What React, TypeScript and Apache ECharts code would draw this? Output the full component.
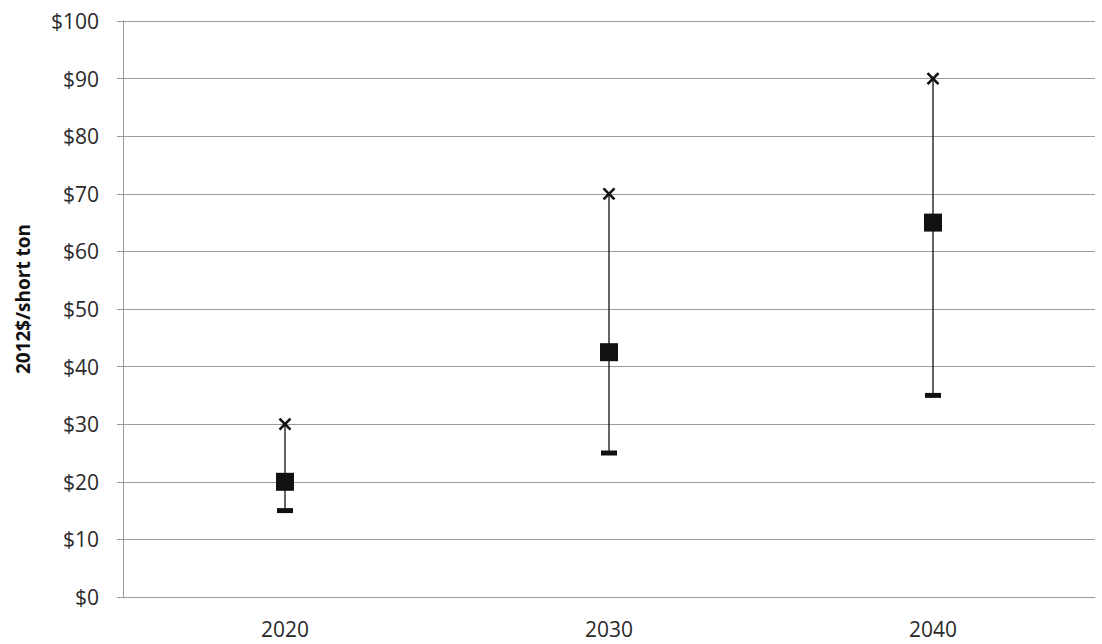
import React, { useEffect, useRef } from "react";
import * as echarts from "echarts";

const years = ["2020", "2030", "2040"];
const highValues = [30, 70, 90];
const lowValues = [15, 25, 35];
const midValues = [20, 42.5, 65];
const yTicks = [0, 10, 20, 30, 40, 50, 60, 70, 80, 90, 100];
const yTitle = "2012$/short ton";

const FONT = "'Open Sans', 'Liberation Sans', sans-serif";

export default function App() {
  const ref = useRef<HTMLDivElement>(null);

  useEffect(() => {
    if (!ref.current) return;
    const chart = echarts.init(ref.current, undefined, { renderer: "svg" });

    const data = years.map((_, i) => [i, lowValues[i], highValues[i], midValues[i]]);

    chart.setOption({
      animation: false,
      backgroundColor: "#ffffff",
      grid: { left: 123, right: 7, top: 21, bottom: 47 },
      graphic: [
        {
          type: "text",
          x: 23,
          y: 299,
          rotation: Math.PI / 2,
          style: {
            text: yTitle,
            fontSize: 19,
            fontWeight: "bold",
            fontFamily: FONT,
            fill: "#111",
            align: "center",
            verticalAlign: "middle",
          },
        },
      ],
      xAxis: {
        type: "category",
        data: years,
        axisLine: { lineStyle: { color: "#9a9a9a", width: 1 } },
        axisTick: { show: false },
        axisLabel: { color: "#2a2a2a", fontSize: 21, fontFamily: FONT, margin: 21 },
        splitLine: { show: false },
      },
      yAxis: {
        type: "value",
        min: yTicks[0],
        max: yTicks[yTicks.length - 1],
        interval: 10,
        axisLine: { show: true, lineStyle: { color: "#9a9a9a", width: 1 } },
        axisTick: { show: true, length: 6, lineStyle: { color: "#9a9a9a" } },
        axisLabel: {
          color: "#2a2a2a",
          fontSize: 21,
          fontFamily: FONT,
          margin: 24,
          formatter: (v: number) => "$" + v,
        },
        splitLine: { show: true, lineStyle: { color: "#9a9a9a", width: 1 } },
      },
      series: [
        {
          type: "custom",
          data,
          encode: { x: 0, y: [1, 2, 3] },
          renderItem: (params: any, api: any) => {
            const idx = api.value(0);
            const low = api.coord([idx, api.value(1)]);
            const high = api.coord([idx, api.value(2)]);
            const mid = api.coord([idx, api.value(3)]);
            const x = low[0];
            const s = 5.5;
            const sq = 18;
            return {
              type: "group",
              children: [
                {
                  type: "line",
                  shape: { x1: x, y1: low[1], x2: x, y2: high[1] },
                  style: { stroke: "#111", lineWidth: 1.3 },
                },
                {
                  type: "line",
                  shape: { x1: x - s, y1: high[1] - s, x2: x + s, y2: high[1] + s },
                  style: { stroke: "#111", lineWidth: 2.6 },
                },
                {
                  type: "line",
                  shape: { x1: x - s, y1: high[1] + s, x2: x + s, y2: high[1] - s },
                  style: { stroke: "#111", lineWidth: 2.6 },
                },
                {
                  type: "rect",
                  shape: { x: x - 8, y: low[1] - 2.5, width: 16, height: 5 },
                  style: { fill: "#111" },
                },
                {
                  type: "rect",
                  shape: { x: mid[0] - sq / 2, y: mid[1] - sq / 2, width: sq, height: sq },
                  style: { fill: "#111" },
                },
              ],
            };
          },
        },
      ],
    });

    return () => chart.dispose();
  }, []);

  return <div ref={ref} style={{ width: 1102, height: 644, position: "absolute", left: 0, top: 0 }} />;
}
